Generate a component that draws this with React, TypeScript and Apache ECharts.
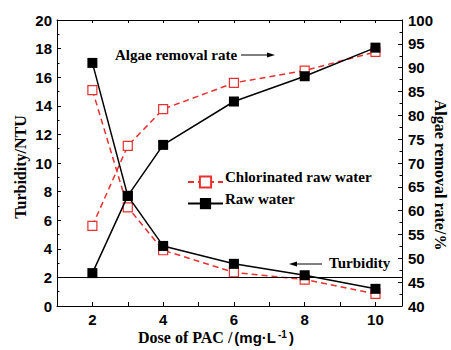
import React, { useEffect, useRef } from "react";
import * as echarts from "echarts";

const doses = [2, 3, 4, 6, 8, 10];
const chlTurbidity = [15.1, 6.9, 3.9, 2.35, 1.85, 0.85];
const rawTurbidity = [17.0, 7.7, 4.2, 2.95, 2.15, 1.2];
const chlAlgae = [56.8, 73.6, 81.3, 86.8, 89.4, 93.3];
const rawAlgae = [46.9, 63.1, 73.8, 82.9, 88.2, 94.2];
const legendNames = ["Chlorinated raw water", "Raw water"];
const turbidityLimit = 2;

const RED = "#e8302f";
const SERIF = "Liberation Serif";
const SANS = "Liberation Sans";

function pairs(ys: number[]) {
  return doses.map((x, i) => [x, ys[i]]);
}

export default function App() {
  const ref = useRef<HTMLDivElement>(null);
  useEffect(() => {
    document.body.style.margin = "0";
    const chart = echarts.init(ref.current!, null, { renderer: "svg" });
    const axisLabel = { color: "#000", fontFamily: SANS, fontWeight: "bold", fontSize: 15 };
    const redSeries = (data: number[], yAxisIndex: number) => ({
      name: legendNames[0],
      type: "line",
      yAxisIndex,
      data: pairs(data),
      symbol: "rect",
      symbolSize: 9,
      lineStyle: { color: RED, width: 1.5, type: [6, 4] },
      itemStyle: { color: "#fff", borderColor: RED, borderWidth: 1.2 },
      z: 2,
    });
    const blackSeries = (data: number[], yAxisIndex: number, extra: any = {}) => ({
      name: legendNames[1],
      type: "line",
      yAxisIndex,
      data: pairs(data),
      symbol: "rect",
      symbolSize: 10,
      lineStyle: { color: "#000", width: 1.5 },
      itemStyle: { color: "#000", borderColor: "#000", borderWidth: 0 },
      z: 3,
      ...extra,
    });
    const legendTexts = legendNames.map((name, i) => ({
      type: "text",
      x: 225,
      y: 177 + i * 22,
      style: {
        text: name,
        font: `bold 15px ${SERIF}`,
        fill: "#000",
        align: "left",
        verticalAlign: "middle",
      },
    }));
    chart.setOption({
      animation: false,
      backgroundColor: "#fff",
      grid: { left: 57, right: 49, top: 20, bottom: 44 },
      legend: {
        data: legendNames,
        orient: "vertical",
        left: 182,
        top: 170,
        itemWidth: 35,
        itemHeight: 14,
        itemGap: 8,
        formatter: () => "",
        textStyle: { color: "#000", fontSize: 15 },
      },
      xAxis: [
        {
          type: "value",
          min: 1,
          max: 10.75,
          interval: 1,
          axisLine: { show: true, lineStyle: { color: "#000", width: 1 } },
          axisTick: { show: true, inside: true, length: 4, lineStyle: { color: "#000" } },
          axisLabel: {
            ...axisLabel,
            margin: 6,
            formatter: (v: number) => (v % 2 === 0 ? String(v) : ""),
          },
          splitLine: { show: false },
        },
        {
          type: "value",
          position: "top",
          min: 1,
          max: 10.75,
          interval: 1,
          axisLine: { show: true, onZero: false, lineStyle: { color: "#000", width: 1 } },
          axisTick: { show: true, inside: true, length: 3, lineStyle: { color: "#000" } },
          axisLabel: { show: false },
          splitLine: { show: false },
        },
      ],
      yAxis: [
        {
          type: "value",
          min: 0,
          max: 20,
          interval: 2,
          axisLine: { show: true, lineStyle: { color: "#000", width: 1 } },
          axisTick: { show: true, inside: true, length: 4, lineStyle: { color: "#000" } },
          minorTick: { show: true, splitNumber: 2, length: 2.5, lineStyle: { color: "#000" } },
          axisLabel: { ...axisLabel, margin: 5 },
          splitLine: { show: false },
        },
        {
          type: "value",
          min: 40,
          max: 100,
          interval: 5,
          position: "right",
          axisLine: { show: true, lineStyle: { color: "#000", width: 1 } },
          axisTick: { show: true, inside: true, length: 4, lineStyle: { color: "#000" } },
          minorTick: { show: true, splitNumber: 2, length: 2.5, lineStyle: { color: "#000" } },
          axisLabel: { ...axisLabel, margin: 6 },
          splitLine: { show: false },
        },
      ],
      series: [
        redSeries(chlTurbidity, 0),
        redSeries(chlAlgae, 1),
        blackSeries(rawTurbidity, 0, {
          markLine: {
            silent: true,
            symbol: "none",
            label: { show: false },
            lineStyle: { color: "#000", width: 1, type: "solid" },
            data: [{ yAxis: turbidityLimit }],
          },
        }),
        blackSeries(rawAlgae, 1),
      ],
      graphic: [
        ...legendTexts,
        {
          type: "text",
          x: 20,
          y: 167,
          rotation: Math.PI / 2,
          style: {
            text: "Turbidity/NTU",
            font: `bold 16px ${SERIF}`,
            fill: "#000",
            align: "center",
            verticalAlign: "middle",
          },
        },
        {
          type: "text",
          x: 440,
          y: 175,
          rotation: -Math.PI / 2,
          style: {
            text: "Algae removal rate/%",
            font: `bold 16px ${SERIF}`,
            fill: "#000",
            align: "center",
            verticalAlign: "middle",
          },
        },
        {
          type: "text",
          x: 138,
          y: 337,
          style: {
            text: "{a|Dose of PAC /}{b|(mg·L}{s|-1}{b|)}",
            align: "left",
            verticalAlign: "middle",
            fill: "#000",
            rich: {
              a: { fontFamily: SERIF, fontWeight: "bold", fontSize: 16, fill: "#000" },
              b: { fontFamily: SANS, fontWeight: "bold", fontSize: 15, fill: "#000", padding: [0, 2, 0, 2] },
              s: {
                fontFamily: SANS,
                fontWeight: "bold",
                fontSize: 10,
                fill: "#000",
                padding: [0, 0, 6, 0],
              },
            },
          },
        },
        {
          type: "text",
          x: 115,
          y: 55,
          style: {
            text: "Algae removal rate",
            font: `bold 15px ${SERIF}`,
            fill: "#000",
            align: "left",
            verticalAlign: "middle",
          },
        },
        {
          type: "line",
          shape: { x1: 241, y1: 55, x2: 270, y2: 55 },
          style: { stroke: "#000", lineWidth: 1 },
        },
        {
          type: "polygon",
          shape: { points: [[275, 55], [267, 52.5], [267, 57.5]] },
          style: { fill: "#000" },
        },
        {
          type: "text",
          x: 329,
          y: 263,
          style: {
            text: "Turbidity",
            font: `bold 15px ${SERIF}`,
            fill: "#000",
            align: "left",
            verticalAlign: "middle",
          },
        },
        {
          type: "line",
          shape: { x1: 294, y1: 264, x2: 322, y2: 264 },
          style: { stroke: "#000", lineWidth: 1 },
        },
        {
          type: "polygon",
          shape: { points: [[289, 264], [297, 261.5], [297, 266.5]] },
          style: { fill: "#000" },
        },
      ],
    });
    return () => chart.dispose();
  }, []);
  return <div ref={ref} style={{ width: 451, height: 350 }} />;
}
